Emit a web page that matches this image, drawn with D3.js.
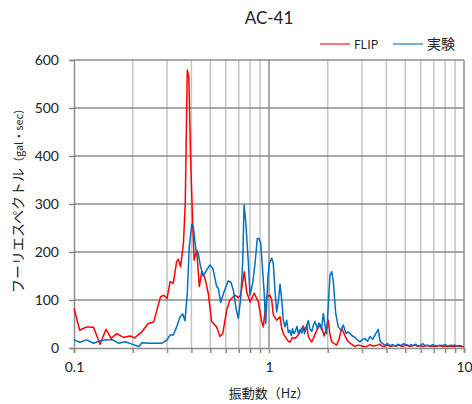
<!DOCTYPE html>
<html><head><meta charset="utf-8">
<script src="https://cdn.jsdelivr.net/npm/d3@7"></script>
<style>body{margin:0;background:#fff}svg{display:block}</style>
</head><body>
<svg id="c" width="472" height="404"></svg>
<script>
const title = "AC-41";
const xTickLabels = ["0.1","1","10"];
const yTicks = [0,100,200,300,400,500,600];
const seriesNames = ["FLIP","実験"];
const seriesColors = ["#ff0000","#0070c0"];

const flipFreq = [0.1,0.107,0.116,0.126,0.136,0.146,0.155,0.166,0.179,0.194,0.205,0.223,0.240,0.256,0.278,0.289,0.300,0.311,0.323,0.336,0.343,0.352,0.364,0.372,0.381,0.388,0.396,0.406,0.413,0.426,0.439,0.453,0.470,0.488,0.508,0.539,0.561,0.579,0.607,0.631,0.669,0.696,0.716,0.747,0.768,0.799,0.840,0.881,0.918,0.935,0.973,1.012,1.032,1.052,1.095,1.139,1.162,1.185,1.208,1.23,1.252,1.281,1.32,1.359,1.414,1.44,1.472,1.500,1.53,1.561,1.591,1.62,1.656,1.688,1.72,1.757,1.826,1.870,1.921,1.97,2.014,2.05,2.097,2.16,2.224,2.29,2.360,2.454,2.53,2.603,2.761,2.85,2.95,3.05,3.15,3.3,3.4,3.55,3.7,3.8,3.9,4.05,4.2,4.35,4.5,4.65,4.8,5.0,5.1,5.25,5.4,5.6,5.8,5.95,6.1,6.3,6.5,6.75,7.0,7.25,7.5,7.75,8.0,8.25,8.5,8.75,9.0,9.25,9.5,9.75,10];
const flipAmp  = [83,37,44,43,8,39,20,30,22,25,21,34,51,54,107,110,103,138,135,180,185,169,218,300,579,565,400,260,183,204,128,160,145,114,55,44,24,30,79,100,110,105,110,159,117,96,114,96,55,44,107,110,100,69,58,65,41,30,24,19,15,12,22,20,27,34,41,46,36,48,24,18,13,20,28,37,48,40,25,42,58,30,13,9,6,20,41,25,15,10,3,6,5,3,3,7,4,5,8,4,3,6,3,5,4,6,3,5,7,3,4,6,3,5,3,4,5,3,4,3,5,3,4,3,3,4,3,4,3,3,3];

const expFreq = [0.1,0.107,0.116,0.126,0.136,0.148,0.158,0.169,0.183,0.198,0.215,0.223,0.245,0.266,0.283,0.300,0.311,0.323,0.336,0.350,0.361,0.371,0.381,0.390,0.402,0.409,0.422,0.434,0.446,0.460,0.479,0.498,0.516,0.539,0.550,0.565,0.588,0.618,0.638,0.656,0.677,0.696,0.716,0.733,0.745,0.760,0.783,0.799,0.825,0.848,0.871,0.889,0.907,0.928,0.943,0.962,0.988,1.004,1.032,1.052,1.073,1.095,1.116,1.139,1.162,1.184,1.208,1.232,1.256,1.281,1.30,1.32,1.34,1.359,1.39,1.414,1.44,1.472,1.500,1.52,1.54,1.57,1.591,1.62,1.656,1.69,1.722,1.77,1.80,1.826,1.86,1.899,1.94,1.976,2.055,2.097,2.136,2.198,2.267,2.340,2.404,2.482,2.54,2.603,2.68,2.761,2.85,2.929,3.02,3.107,3.2,3.296,3.4,3.496,3.635,3.709,3.797,3.934,4.05,4.173,4.3,4.45,4.6,4.75,4.9,5.05,5.2,5.35,5.5,5.65,5.8,6.0,6.15,6.3,6.5,6.7,6.9,7.1,7.3,7.5,7.75,8.0,8.25,8.5,8.75,9.0,9.25,9.5,9.75,10];
const expAmp   = [17,12,17,10,15,17,17,10,13,8,3,11,10,10,10,17,27,27,44,65,71,57,114,211,258,253,204,197,169,150,162,173,165,128,124,95,117,140,137,121,83,62,103,180,298,263,180,110,135,176,228,228,219,160,120,51,150,176,187,176,120,75,96,133,100,58,44,58,32,37,26,40,30,33,45,30,38,31,44,30,36,50,57,40,34,48,55,40,52,50,38,72,45,30,152,159,140,72,44,37,48,30,34,30,25,22,16,13,18,20,14,24,18,27,39,15,10,6,9,5,7,4,8,5,9,6,4,7,5,8,4,6,9,5,6,4,7,5,4,6,5,7,4,6,5,6,4,5,4];

const W = 472, H = 404;
const m = {l:74, r:464, t:60, b:348};
const svg = d3.select("#c");
const x = d3.scaleLog().domain([0.1,10]).range([m.l,m.r]);
const y = d3.scaleLinear().domain([0,600]).range([m.b,m.t]);

// vertical grid (log minors)
const vt = [];
for (let d of [0.1,1]) for (let k=2;k<=9;k++) vt.push(+(d*k).toFixed(2));
svg.append("g").selectAll("line").data(vt).join("line")
  .attr("x1",d=>x(d)).attr("x2",d=>x(d)).attr("y1",m.t).attr("y2",m.b)
  .attr("stroke","#c4c4c4").attr("stroke-width",1.5);
svg.append("g").selectAll("line").data([1,10]).join("line")
  .attr("x1",d=>x(d)).attr("x2",d=>x(d)).attr("y1",m.t).attr("y2",m.b)
  .attr("stroke","#8c8c8c").attr("stroke-width",1.5);
// horizontal grid
svg.append("g").selectAll("line").data(yTicks.slice(1)).join("line")
  .attr("x1",m.l).attr("x2",m.r).attr("y1",d=>y(d)).attr("y2",d=>y(d))
  .attr("stroke","#8c8c8c").attr("stroke-width",1.5);

// axes
const yAxis = d3.axisLeft(y).tickValues(yTicks).tickSize(5).tickFormat(d3.format("d"));
const gy = svg.append("g").attr("transform",`translate(${m.l},0)`).call(yAxis);
gy.select(".domain").attr("stroke","#8c8c8c").attr("stroke-width",1.5);
gy.selectAll(".tick line").attr("stroke","#8c8c8c").attr("stroke-width",1.5);
gy.selectAll("text").attr("font-family","Lato, 'Noto Sans', sans-serif").attr("font-size",14).attr("fill","#222").attr("x",-15);

const allX = [0.1,...vt.slice(0,8),1,...vt.slice(8),10];
const xAxis = d3.axisBottom(x).tickValues(allX).tickSize(5)
  .tickFormat(d => xTickLabels.includes(String(d)) ? String(d) : "");
const gx = svg.append("g").attr("transform",`translate(0,${m.b})`).call(xAxis);
gx.select(".domain").attr("stroke","#8c8c8c").attr("stroke-width",1.5);
gx.selectAll(".tick line").attr("stroke","#8c8c8c").attr("stroke-width",1.5);
gx.selectAll("text").attr("font-family","Lato, 'Noto Sans', sans-serif").attr("font-size",14).attr("fill","#222").attr("dy","1.15em");

// lines
const line = d3.line().x(d=>x(d[0])).y(d=>y(d[1]));
const series = [
  d3.zip(flipFreq, flipAmp),
  d3.zip(expFreq, expAmp)
];
series.forEach((s,i)=>{
  svg.append("path").datum(s).attr("d",line).attr("fill","none")
    .attr("stroke",seriesColors[i]).attr("stroke-width",1.5).attr("stroke-linejoin","round");
});

// title
svg.append("text").attr("x",269).attr("y",24).attr("text-anchor","middle")
  .attr("font-family","Lato, 'Noto Sans', sans-serif").attr("font-size",17).attr("fill","#222").text(title);

// legend
const lg = svg.append("g").attr("font-family","'Noto Sans CJK JP', Lato, sans-serif").attr("fill","#222");
const lx = [320, 393];
seriesNames.forEach((n,i)=>{
  lg.append("line").attr("x1",lx[i]).attr("x2",lx[i]+30).attr("y1",44).attr("y2",44)
    .attr("stroke",seriesColors[i]).attr("stroke-width",1.1);
  lg.append("text").attr("x",lx[i]+34).attr("y",49).attr("font-size", i==0?12:14).text(n);
});

// axis titles
svg.append("text").attr("x",269).attr("y",398).attr("text-anchor","middle")
  .attr("font-family","'Noto Sans CJK JP', sans-serif").attr("font-size",13).attr("fill","#222")
  .text("振動数（Hz）");
const yt = svg.append("text").attr("transform","translate(23,198) rotate(-90)").attr("text-anchor","middle")
  .attr("font-family","'Noto Sans CJK JP', sans-serif").attr("font-size",14).attr("fill","#222");
yt.append("tspan").text("フーリエスペクトル");
yt.append("tspan").attr("font-size",11).text("（gal・sec）");
</script>
</body></html>
